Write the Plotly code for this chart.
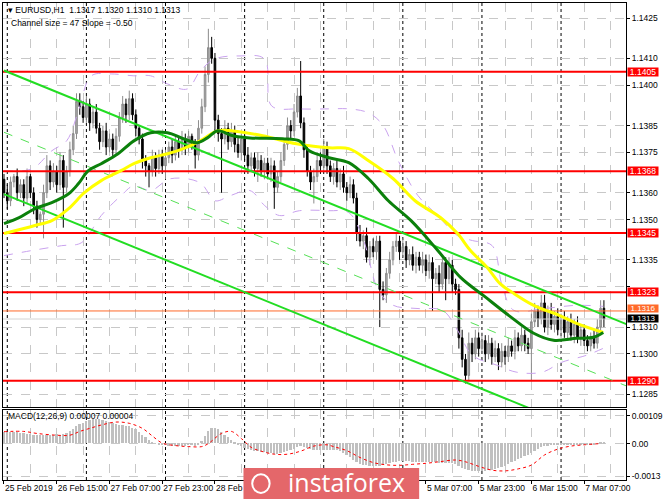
import plotly.graph_objects as go

# ---------------- data ----------------
closes = [
    1.1360, 1.1357, 1.1364, 1.1366, 1.1360, 1.1363, 1.1358, 1.1366, 1.1360, 1.1355,
    1.1350, 1.1352, 1.1360, 1.1370, 1.1364, 1.1368, 1.1363, 1.1372, 1.1362, 1.1368,
    1.1376, 1.1382, 1.1394, 1.1392, 1.1388, 1.1393, 1.1386, 1.1390, 1.1384, 1.1379,
    1.1383, 1.1377, 1.1380, 1.1376, 1.1381, 1.1388, 1.1393, 1.1389, 1.1395, 1.1389,
    1.1384, 1.1380, 1.1372, 1.1370, 1.1368, 1.1373, 1.1369, 1.1374, 1.1370, 1.1373,
    1.1377, 1.1374, 1.1379, 1.1376, 1.1380, 1.1377, 1.1381, 1.1378, 1.1374, 1.1384,
    1.1392, 1.1404, 1.1414, 1.1410, 1.1387, 1.1382, 1.1380, 1.1384, 1.1379, 1.1383,
    1.1378, 1.1375, 1.1380, 1.1374, 1.1370, 1.1373, 1.1369, 1.1372, 1.1368, 1.1371,
    1.1367, 1.1370, 1.1362, 1.1366, 1.1372, 1.1378, 1.1385, 1.1383, 1.1390, 1.1396,
    1.1386, 1.1376, 1.1368, 1.1364, 1.1366, 1.1372, 1.1370, 1.1377, 1.1370, 1.1366,
    1.1369, 1.1364, 1.1367, 1.1362, 1.1360, 1.1363, 1.1358, 1.1345, 1.1342, 1.1344,
    1.1336, 1.1340, 1.1338, 1.1342, 1.1324, 1.1322, 1.1330, 1.1335, 1.1340, 1.1342,
    1.1338, 1.1340, 1.1335, 1.1337, 1.1333, 1.1336, 1.1333, 1.1335, 1.1331, 1.1334,
    1.1328, 1.1330, 1.1326, 1.1334, 1.1328, 1.1333, 1.1326, 1.1324, 1.1306, 1.1298,
    1.1292, 1.1304, 1.1300, 1.1306, 1.1302, 1.1305, 1.1300, 1.1304, 1.1299, 1.1302,
    1.1297, 1.1301, 1.1299, 1.1303, 1.1301, 1.1306, 1.1303, 1.1307, 1.1304, 1.1302,
    1.1312, 1.1316, 1.1313, 1.1319, 1.1310, 1.1316, 1.1311, 1.1314, 1.1309, 1.1313,
    1.1308, 1.1312, 1.1307, 1.1311, 1.1306, 1.1309, 1.1305, 1.1303, 1.1306, 1.1304,
    1.1310, 1.1317, 1.1313,
]
first_open = 1.1365
upper_wick_pips = [
    2, 3, 2, 1, 3, 2, 2, 3, 1, 2,
    2, 1, 3, 4, 2, 3, 2, 3, 2, 2,
    3, 3, 3, 3, 2, 3, 2, 2, 3, 2,
    2, 3, 2, 2, 3, 2, 3, 2, 3, 2,
    2, 1, 2, 2, 1, 3, 2, 2, 2, 3,
    2, 3, 2, 2, 3, 2, 2, 1, 2, 3,
    3, 3, 7, 4, 2, 2, 2, 3, 2, 3,
    2, 3, 2, 2, 3, 2, 2, 3, 2, 2,
    2, 3, 2, 2, 3, 2, 3, 2, 3, 3,
    13, 2, 2, 2, 3, 2, 3, 3, 2, 2,
    2, 3, 2, 3, 2, 3, 2, 2, 3, 2,
    3, 2, 3, 2, 2, 3, 2, 3, 2, 3,
    2, 3, 2, 2, 3, 2, 2, 3, 2, 3,
    2, 2, 3, 3, 2, 3, 2, 2, 2, 3,
    2, 4, 2, 3, 2, 3, 2, 3, 2, 3,
    2, 3, 2, 3, 2, 3, 2, 3, 2, 2,
    3, 3, 2, 3, 3, 2, 3, 2, 3, 2,
    3, 2, 3, 2, 3, 2, 2, 2, 2, 3,
    3, 3, 3,
]
lower_wick_pips = [
    2, 3, 2, 2, 3, 2, 3, 2, 2, 3,
    3, 2, 9, 2, 3, 2, 3, 2, 15, 2,
    2, 2, 2, 3, 2, 2, 3, 2, 2, 3,
    2, 3, 2, 3, 2, 2, 2, 3, 2, 2,
    3, 2, 3, 4, 6, 2, 3, 2, 3, 5,
    2, 3, 2, 3, 2, 3, 2, 2, 5, 2,
    2, 2, 3, 2, 4, 3, 20, 2, 3, 2,
    3, 2, 3, 2, 3, 2, 3, 5, 2, 3,
    2, 3, 8, 2, 2, 2, 2, 3, 2, 2,
    2, 3, 2, 3, 8, 2, 3, 2, 3, 2,
    3, 2, 3, 2, 3, 2, 2, 3, 2, 3,
    2, 3, 2, 3, 14, 2, 3, 2, 2, 2,
    3, 2, 3, 2, 2, 3, 2, 3, 2, 3,
    12, 2, 3, 2, 8, 2, 3, 2, 4, 3,
    3, 2, 3, 2, 3, 2, 3, 2, 3, 2,
    3, 2, 3, 2, 2, 3, 2, 2, 3, 2,
    12, 2, 3, 2, 2, 3, 2, 3, 2, 3,
    2, 3, 2, 3, 2, 3, 2, 2, 2, 2,
    2, 2, 3,
]

time_tick_bars = [0, 16, 32, 48, 64, 80, 96, 112, 128, 144, 160, 176]
# labels at 80/96/112 sit under the watermark in the reference and are not visible
time_tick_labels = ["25 Feb 2019", "26 Feb 15:00", "27 Feb 07:00", "27 Feb 23:00",
                    "28 Feb 15:00", "", "", "",
                    "5 Mar 07:00", "5 Mar 23:00", "6 Mar 15:00", "7 Mar 07:00"]
day_start_bars = [1, 25, 49, 73, 97, 121, 145, 169]

price_ticks = [1.1425, 1.1410, 1.1400, 1.1385, 1.1375, 1.1360, 1.1350, 1.1335,
               1.1325, 1.1310, 1.1300, 1.1285]
price_tick_labels = ["1.1425", "1.1410", "1.1400", "1.1385", "1.1375", "1.1360",
                     "1.1350", "1.1335", "", "1.1310", "1.1300", "1.1285"]

red_levels = [1.1405, 1.1368, 1.1345, 1.1323, 1.1290]
ask_level = 1.1316
bid_level = 1.1313

# regression channel
chan_first_bar = 0
chan_last_bar = 189
chan_top_start = 1.14055
chan_slope = -0.00005
chan_size = 0.0046

# moving averages (bar, price)
ma_slow_bars = [0, 9.4, 14.5, 19.6, 24.4, 29.5, 35.5, 39.4, 44.5, 49.6, 54.4, 59.5, 64.7,
                69.5, 78.5, 88.7, 98.6, 104.6, 110.6, 118.1, 124.7, 132.5, 137.6, 141.5,
                146.6, 150.5, 154.7, 160.7, 168.6, 173.7, 181.8]
ma_slow_vals = [1.13448, 1.13478, 1.13496, 1.13541, 1.13600, 1.13645, 1.13682, 1.13708,
                1.13730, 1.13745, 1.13764, 1.13793, 1.13830, 1.13830, 1.13812, 1.13782,
                1.13767, 1.13764, 1.13719, 1.13652, 1.13570, 1.13507, 1.13448, 1.13385,
                1.13322, 1.13262, 1.13225, 1.13181, 1.13143, 1.13114, 1.13080]
ma_fast_bars = [0, 4.6, 9.4, 14.5, 19.6, 22.6, 25.6, 29.5, 34.6, 39.4, 44.5, 49.6, 54.4,
                58.7, 61.7, 64.7, 69.5, 74.6, 84.5, 89.6, 92.6, 98.6, 104.6, 110.6,
                116.6, 123.5, 131.6, 138.5, 145.7, 153.5, 160.7, 166.7, 173.7, 178.8, 181.8]
ma_fast_vals = [1.13485, 1.13507, 1.13541, 1.13563, 1.13596, 1.13634, 1.13682, 1.13708,
                1.13745, 1.13793, 1.13823, 1.13823, 1.13801, 1.13786, 1.13804, 1.13830,
                1.13812, 1.13804, 1.13801, 1.13793, 1.13756, 1.13730, 1.13712, 1.13652,
                1.13570, 1.13496, 1.13385, 1.13285, 1.13215, 1.13140, 1.13077, 1.13051,
                1.13058, 1.13062, 1.13080]

# envelope bands (bar, price)
band_up_bars = [0, 8.5, 14.5, 19, 22.6, 26.5, 32.5, 39.4, 44.5, 49.6, 55.6, 59.5, 64,
                71.6, 79, 81.2, 89.6, 98.6, 104.6, 110.6, 115.1, 119.6, 125.6, 131.6,
                137.6, 142.1, 148.1, 151.1, 154.7, 163.8, 173.7, 181.8]
band_up_vals = [1.13682, 1.13689, 1.13756, 1.13793, 1.13905, 1.14035, 1.14042, 1.14035,
                1.14035, 1.14005, 1.13986, 1.14053, 1.14098, 1.14109, 1.14098, 1.13923,
                1.13912, 1.13912, 1.13912, 1.13897, 1.13849, 1.13719, 1.13589, 1.13515,
                1.13440, 1.13422, 1.13403, 1.13255, 1.13162, 1.13169, 1.13181, 1.13177]
band_dn_bars = [0, 8.5, 17.5, 23.5, 29.5, 35.5, 39.4, 44.5, 50.5, 59.5, 64, 68.6, 74.6,
                79.1, 83.6, 89.6, 98.6, 104.6, 109.1, 113.6, 118.1, 125.6, 133.1, 137.6,
                142.1, 149.6, 155.6, 163.2, 169.2, 176.7, 181.8]
band_dn_vals = [1.13366, 1.13385, 1.13403, 1.13414, 1.13515, 1.13589, 1.13626, 1.13608,
                1.13652, 1.13637, 1.13570, 1.13589, 1.13608, 1.13552, 1.13515, 1.13533,
                1.13533, 1.13526, 1.13422, 1.13236, 1.13181, 1.13169, 1.13162, 1.13088,
                1.12995, 1.12958, 1.12932, 1.12932, 1.12969, 1.12995, 1.13021]

# MACD histogram (units of 1e-5)
macd_hist_e5 = [
    45, 46, 46, 45, 44, 42, 40, 38, 36, 34, 33,
    33, 33, 34, 35, 35, 36, 35, 36,
    40, 48, 58, 68,
    76, 82, 88, 92, 95, 96, 95, 92,
    88, 84, 80, 76, 74, 72, 70, 68,
    62, 55, 45, 35, 24, 14,
    6, 0, -4, -6, -8, -9, -10, -10, -10, -9, -9, -8, -8, -9, -7,
    10, 30, 50, 62, 62, 55, 45,
    35, 25, 15, 5, -5, -12,
    -18, -22, -26, -30, -32, -34, -35, -36, -38, -40, -40, -38, -34, -30, -26, -22, -16, -12,
    -14, -18, -22, -25, -26, -27, -28, -28, -27, -26,
    -28, -32, -38, -45, -55, -65, -74, -80, -84, -86,
    -88, -88, -88, -88, -86, -82, -78, -75, -72, -70,
    -70, -70, -71, -72, -72, -73, -74, -74, -74, -75, -75, -76, -76, -77, -78, -78, -80,
    -88, -96, -102, -106, -108, -110, -110, -110, -108, -106, -104, -100, -97,
    -93, -88, -82, -75, -68, -62, -56, -50, -44, -38, -30, -22,
    -16, -12, -10, -8, -8, -8, -7, -7, -6, -6, -5, -5, -4,
    -5, -4, -4, -3, -1, 2, 4,
]
signal_bars = [0, 6, 10, 16, 20, 23, 26, 30, 34, 38, 42, 45, 48, 52, 56, 60, 62, 66, 69,
               72, 75, 78, 82, 86, 90, 94, 98, 100, 104, 108, 112, 116, 120, 124, 128,
               132, 137, 140, 144, 148, 152, 156, 160, 164, 168, 172, 176, 181]
signal_e5 = [47, 48, 40, 33, 33, 48, 60, 75, 85, 80, 60, 30, 2, -8, -12, -12, 0, 40, 48,
             20, -15, -30, -42, -42, -30, -10, -5, -12, -28, -55, -75, -84, -86, -82, -78,
             -72, -65, -72, -90, -105, -108, -100, -85, -45, -22, -10, -5, 0]

# ---------------- derived ----------------
bars = list(range(len(closes)))
opens = [first_open] + closes[:-1]
highs = [max(o, c) + u / 10000 for o, c, u in zip(opens, closes, upper_wick_pips)]
lows = [min(o, c) - w / 10000 for o, c, w in zip(opens, closes, lower_wick_pips)]
macd_hist = [v * 1e-5 for v in macd_hist_e5]
signal = [v * 1e-5 for v in signal_e5]

FONT = "Liberation Sans"
x_range = [-0.3, 188.7]

fig = go.Figure()

# envelope bands
fig.add_trace(go.Scatter(x=band_up_bars, y=band_up_vals, mode="lines",
                         line=dict(color="#c9a2ee", width=1, dash="dash", shape="spline"),
                         hoverinfo="skip"))
fig.add_trace(go.Scatter(x=band_dn_bars, y=band_dn_vals, mode="lines",
                         line=dict(color="#c9a2ee", width=1, dash="dash", shape="spline"),
                         hoverinfo="skip"))

# horizontal level lines
fig.add_trace(go.Scatter(x=x_range, y=[bid_level, bid_level], mode="lines",
                         line=dict(color="#d4d4d4", width=1), hoverinfo="skip"))
fig.add_trace(go.Scatter(x=x_range, y=[ask_level, ask_level], mode="lines",
                         line=dict(color="#ff6a2a", width=1), hoverinfo="skip"))
for lv in red_levels:
    fig.add_trace(go.Scatter(x=x_range, y=[lv, lv], mode="lines",
                             line=dict(color="#ff0000", width=2), hoverinfo="skip"))

# regression channel
cx = [chan_first_bar, chan_last_bar]
top = [chan_top_start + chan_slope * (b - chan_first_bar) for b in cx]
bot = [t - chan_size for t in top]
mid = [t - chan_size / 2 for t in top]
fig.add_trace(go.Scatter(x=cx, y=mid, mode="lines",
                         line=dict(color="#55e055", width=1, dash="dash"), hoverinfo="skip"))
fig.add_trace(go.Scatter(x=cx, y=top, mode="lines",
                         line=dict(color="#22dd22", width=2), hoverinfo="skip"))
fig.add_trace(go.Scatter(x=cx, y=bot, mode="lines",
                         line=dict(color="#22dd22", width=2), hoverinfo="skip"))

# moving averages
fig.add_trace(go.Scatter(x=ma_slow_bars, y=ma_slow_vals, mode="lines",
                         line=dict(color="#ffff00", width=3, shape="spline"), hoverinfo="skip"))
fig.add_trace(go.Scatter(x=ma_fast_bars, y=ma_fast_vals, mode="lines",
                         line=dict(color="#0b800b", width=3, shape="spline"), hoverinfo="skip"))

# candles
fig.add_trace(go.Candlestick(
    x=bars, open=opens, high=highs, low=lows, close=closes,
    increasing=dict(line=dict(color="#8c8c8c", width=1), fillcolor="#a8a8a8"),
    decreasing=dict(line=dict(color="#000000", width=1), fillcolor="#000000"),
    whiskerwidth=0, hoverinfo="skip"))

# MACD panel
fig.add_trace(go.Bar(x=bars, y=macd_hist, marker=dict(color="#c0c0c0", line=dict(width=0)),
                     width=0.55, xaxis="x2", yaxis="y2", hoverinfo="skip"))
fig.add_trace(go.Scatter(x=signal_bars, y=signal, mode="lines", xaxis="x2", yaxis="y2",
                         line=dict(color="#ff0000", width=1, dash="dot", shape="spline"),
                         hoverinfo="skip"))

shapes = []
for d in day_start_bars:
    shapes.append(dict(type="line", xref="x", yref="paper", x0=d, x1=d, y0=0, y1=1,
                       line=dict(color="#000000", width=1, dash="dot"), layer="below"))
# watermark box
shapes.append(dict(type="rect", xref="paper", yref="paper", x0=0.386, x1=0.668,
                   y0=-0.04, y1=0.025, fillcolor="#e4676a", line=dict(width=0), layer="above"))
shapes.append(dict(type="circle", xref="paper", yref="paper", x0=0.400, x1=0.428,
                   y0=-0.027, y1=0.012, line=dict(color="white", width=2), layer="above"))

annotations = [
    dict(xref="paper", yref="paper", x=0.0, y=0.985, xanchor="left", yanchor="middle",
         text="▾ EURUSD,H1  1.1317 1.1320 1.1310 1.1313", showarrow=False,
         font=dict(family=FONT, size=8.5, color="black"), xshift=3),
    dict(xref="paper", yref="paper", x=0.0, y=0.958, xanchor="left", yanchor="middle",
         text="Channel size = 47 Slope = -0.50", showarrow=False,
         font=dict(family=FONT, size=8.5, color="black"), xshift=6),
    dict(xref="paper", yref="paper", x=0.0, y=0.134, xanchor="left", yanchor="middle",
         text="MACD(12,26,9) 0.00007 0.00004", showarrow=False,
         font=dict(family=FONT, size=8.5, color="black"), xshift=3),
    dict(xref="paper", yref="paper", x=0.551, y=-0.005, xanchor="center", yanchor="middle",
         text="instaforex", showarrow=False, borderpad=0,
         font=dict(family="Open Sans", size=25, color="white")),
]
for lv in red_levels:
    annotations.append(dict(xref="paper", yref="y", x=1, y=lv, xanchor="left", yanchor="middle",
                            text=f"{lv:.4f}", showarrow=False, bgcolor="#ff0000",
                            font=dict(family=FONT, size=8.5, color="white"),
                            width=30, height=8, borderpad=0, xshift=1))
annotations.append(dict(xref="paper", yref="y", x=1, y=ask_level, xanchor="left", yanchor="middle",
                        text=f"{ask_level:.4f}", showarrow=False, bgcolor="#ff6a2a",
                        font=dict(family=FONT, size=8, color="white"),
                        width=30, height=7, borderpad=0, xshift=1, yshift=2))
annotations.append(dict(xref="paper", yref="y", x=1, y=bid_level, xanchor="left", yanchor="middle",
                        text=f"{bid_level:.4f}", showarrow=False, bgcolor="#000000",
                        font=dict(family=FONT, size=8, color="white"),
                        width=30, height=7, borderpad=0, xshift=1, yshift=1))

axis_common = dict(showline=True, linecolor="black", linewidth=1, mirror=True,
                   zeroline=False, gridcolor="#c8c8c8", griddash="dash", gridwidth=1)
minor_grid = dict(tick0=8, dtick=16, showgrid=True, gridcolor="#c8c8c8",
                  griddash="dash", gridwidth=1, ticks="")

fig.update_layout(
    width=665, height=499,
    margin=dict(l=2, r=34, t=2, b=19),
    paper_bgcolor="white", plot_bgcolor="rgba(0,0,0,0)",
    showlegend=False,
    font=dict(family=FONT, size=8.5, color="black"),
    shapes=shapes, annotations=annotations,
    xaxis=dict(domain=[0, 1], range=x_range, anchor="y", tickvals=time_tick_bars,
               showticklabels=False, ticks="", rangeslider=dict(visible=False),
               minor=minor_grid, **axis_common),
    yaxis=dict(domain=[0.1527, 1], range=[1.12802, 1.14306], side="right",
               tickvals=price_ticks, ticktext=price_tick_labels, ticks="outside",
               ticklen=3, tickcolor="black", tickfont=dict(family=FONT, size=8.5),
               **axis_common),
    xaxis2=dict(domain=[0, 1], range=x_range, anchor="y2", tickvals=time_tick_bars,
                ticktext=time_tick_labels, ticks="outside", ticklen=3, tickcolor="black",
                ticklabelposition="outside right", tickangle=0,
                tickfont=dict(family=FONT, size=8.5), minor=minor_grid, **axis_common),
    yaxis2=dict(domain=[0, 0.1464], range=[-0.00144, 0.00132], side="right",
                tickvals=[0.00109, 0.0, -0.0013], ticktext=["0.00109", "0.00", "-0.0013"],
                ticks="outside", ticklen=3, tickcolor="black",
                tickfont=dict(family=FONT, size=8.5), **axis_common),
    bargap=0,
)

fig.write_html("out.html", config={"displayModeBar": False},
               post_script="document.body.style.margin='0';document.body.style.overflow='hidden';")
